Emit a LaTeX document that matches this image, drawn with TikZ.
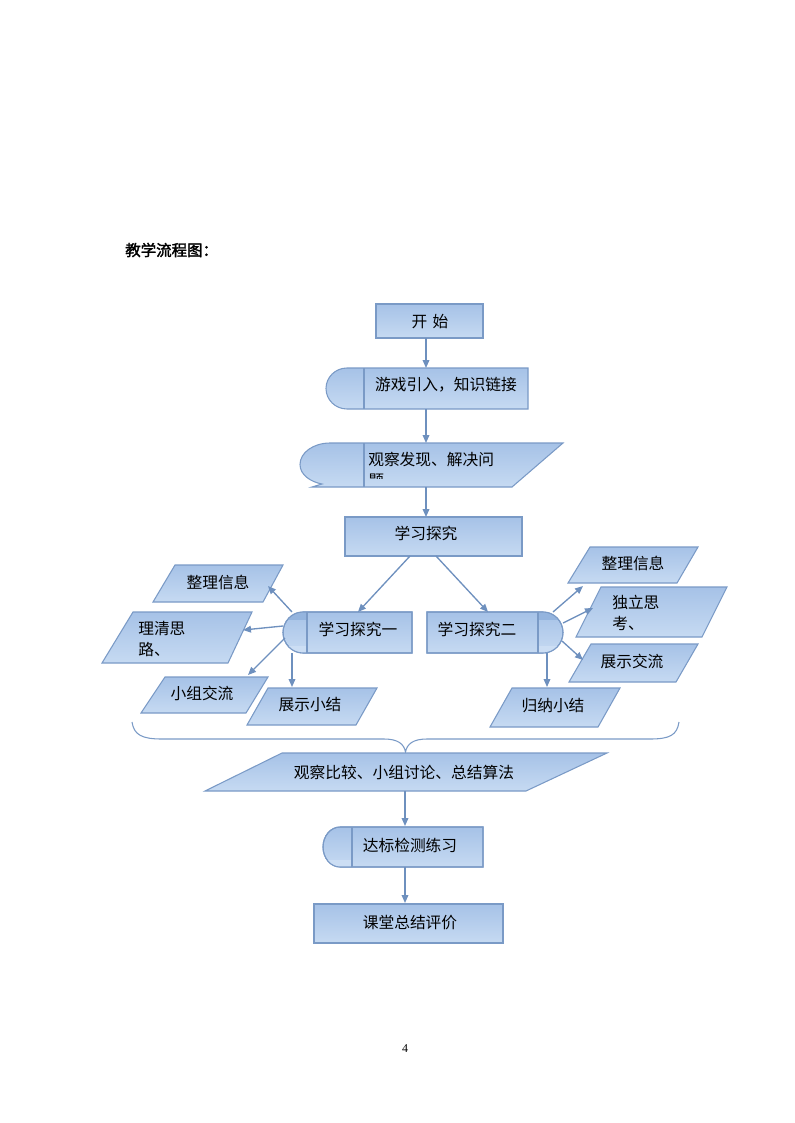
\documentclass[tikz,border=0pt]{standalone}
\usepackage{fontspec}
\setmainfont{Liberation Serif}
\newfontfamily\cjk{Noto Sans CJK SC}
\newfontfamily\cjkb[FakeBold=2]{Noto Sans CJK SC}
\usetikzlibrary{arrows.meta,fit}
\definecolor{bdr}{RGB}{122,154,198}
\definecolor{arr}{RGB}{110,144,190}
\definecolor{fT}{RGB}{166,194,231}
\definecolor{fB}{RGB}{198,218,242}
\definecolor{bandD}{RGB}{148,180,222}
\definecolor{bandL}{RGB}{204,222,244}
\tikzset{
 shp/.style={draw=bdr, line width=0.8pt, top color=fT, bottom color=fB},
 outl/.style={draw=bdr, line width=0.8pt},
 boxn/.style={shp, inner sep=0pt},
 lbl/.style={font=\cjk\fontsize{11.8}{15.5}\selectfont, inner sep=0pt, text=black},
 conn/.style={draw=arr, line width=1pt, -{Triangle[length=6pt,width=5pt]}},
 brc/.style={draw=bdr, line width=0.8pt},
}
\begin{document}
\begin{tikzpicture}[x=0.75pt,y=-0.75pt]
\useasboundingbox (0,0) rectangle (794,1123);

% title
\node[font=\cjkb\fontsize{11.6}{14}\selectfont, anchor=west, inner sep=0pt] (title) at (125,250) {教学流程图：};

% ---------- start box
\coordinate (s1) at (376,304); \coordinate (s2) at (483,338);
\node[boxn, fit=(s1)(s2)] (start) {};
\node[lbl] (startT) at (430,322) {开\,\,始};

% ---------- game intro (rounded left end)
\path[shp] (528,368) -- (347,368) .. controls (335.4,368) and (326,377.2) .. (326,388.5)
  .. controls (326,399.8) and (335.4,409) .. (347,409) -- (528,409) -- cycle;
\draw[outl] (364,368) -- (364,409);
\node[lbl] (game) at (446,385) {游戏引入，知识链接};

% ---------- observe & solve
\path[shp] (563,443) -- (330,443) .. controls (313.4,443) and (300,452.6) .. (300,464.5)
  .. controls (300,475) and (311,482) .. (322,484) -- (312,487) -- (512,487) -- cycle;
\draw[outl] (364,443) -- (364,487);
\node[lbl, anchor=west] (obs) at (368,460) {观察发现、解决问};
\begin{scope}
\clip (364,443) rectangle (563,478.5);
\node[lbl, anchor=west] (obs2) at (368,481) {题};
\end{scope}

% ---------- study box
\coordinate (x1) at (345,517); \coordinate (x2) at (522,556);
\node[boxn, fit=(x1)(x2)] (study) {};
\node[lbl] (studyT) at (426,533) {学习探究};

% ---------- study one
\path[shp] (412,612) -- (303,612) .. controls (292,612) and (283,621.2) .. (283,632.5)
  .. controls (283,643.8) and (292,653) .. (303,653) -- (412,653) -- cycle;
\begin{scope}
\clip (412,612) -- (303,612) .. controls (292,612) and (283,621.2) .. (283,632.5)
  .. controls (283,643.8) and (292,653) .. (303,653) -- (412,653) -- cycle;
\fill[bandD] (280,612) rectangle (307,619.5);
\fill[bandL] (280,645.5) rectangle (307,653);
\end{scope}
\draw[outl] (412,612) -- (303,612) .. controls (292,612) and (283,621.2) .. (283,632.5)
  .. controls (283,643.8) and (292,653) .. (303,653) -- (412,653) -- cycle;
\draw[outl] (307,612) -- (307,653);
\node[lbl] (one) at (358,629) {学习探究一};

% ---------- study two
\path[shp] (427,612) -- (543,612) .. controls (554,612) and (563,621.2) .. (563,632.5)
  .. controls (563,643.8) and (554,653) .. (543,653) -- (427,653) -- cycle;
\begin{scope}
\clip (427,612) -- (543,612) .. controls (554,612) and (563,621.2) .. (563,632.5)
  .. controls (563,643.8) and (554,653) .. (543,653) -- (427,653) -- cycle;
\fill[bandD] (538,612) rectangle (566,619.5);
\fill[bandL] (538,645.5) rectangle (566,653);
\end{scope}
\draw[outl] (427,612) -- (543,612) .. controls (554,612) and (563,621.2) .. (563,632.5)
  .. controls (563,643.8) and (554,653) .. (543,653) -- (427,653) -- cycle;
\draw[outl] (538,612) -- (538,653);
\node[lbl] (two) at (477,629) {学习探究二};

% ---------- left parallelograms
\path[shp] (175,565) -- (283,565) -- (263,602) -- (153,602) -- cycle;
\node[lbl] (l1) at (218,582) {整理信息};
\path[shp] (133,612) -- (252,612) -- (228,663) -- (102,663) -- cycle;
\node[lbl, align=left, anchor=north west] (l2) at (138,621) {理清思\\路、};
\path[shp] (165,677) -- (268,677) -- (246,713) -- (141,713) -- cycle;
\node[lbl] (l3) at (202,693) {小组交流};
\path[shp] (268,688) -- (377,688) -- (356,725) -- (247,725) -- cycle;
\node[lbl] (l4) at (310,705) {展示小结};

% ---------- right parallelograms
\path[shp] (590,547) -- (698,547) -- (677,583) -- (568,583) -- cycle;
\node[lbl] (r1) at (633,563) {整理信息};
\path[shp] (601,587) -- (727,587) -- (702,637) -- (576,637) -- cycle;
\node[lbl, align=left, anchor=north west] (r2) at (612,595) {独立思\\考、};
\path[shp] (591,644) -- (698,644) -- (676,682) -- (569,682) -- cycle;
\node[lbl] (r3) at (632,661) {展示交流};
\path[shp] (512,688) -- (620,688) -- (598,727) -- (490,727) -- cycle;
\node[lbl] (r4) at (553,706) {归纳小结};

% ---------- brace
\draw[brc] (132,722) .. controls (134,735) and (142,739) .. (162,739) -- (384,739)
  .. controls (398,739) and (404,744) .. (405.5,752)
  .. controls (407,744) and (413,739) .. (427,739) -- (650,739)
  .. controls (670,739) and (677,735) .. (679,722);

% ---------- summary parallelogram
\path[shp] (282,753) -- (607,753) -- (526,791) -- (205,791) -- cycle;
\node[lbl] (sum) at (404,772) {观察比较、小组讨论、总结算法};

% ---------- practice
\path[shp] (483,827) -- (340,827) .. controls (330.6,827) and (323,836) .. (323,847)
  .. controls (323,858) and (330.6,867) .. (340,867) -- (483,867) -- cycle;
\begin{scope}
\clip (483,827) -- (340,827) .. controls (330.6,827) and (323,836) .. (323,847)
  .. controls (323,858) and (330.6,867) .. (340,867) -- (483,867) -- cycle;
\fill[bandL] (320,860) rectangle (352,867);
\end{scope}
\draw[outl] (483,827) -- (340,827) .. controls (330.6,827) and (323,836) .. (323,847)
  .. controls (323,858) and (330.6,867) .. (340,867) -- (483,867) -- cycle;
\draw[outl] (352,827) -- (352,867);
\node[lbl] (prac) at (410,845) {达标检测练习};

% ---------- final box
\coordinate (f1) at (314,904); \coordinate (f2) at (503,943);
\node[boxn, fit=(f1)(f2)] (final) {};
\node[lbl] (finalT) at (410,923) {课堂总结评价};

% page number
\node[font=\fontsize{9}{11}\selectfont, inner sep=0pt] (pg) at (405,1049) {4};

% ---------- connector end points
\coordinate (a1s) at (426,338);   \coordinate (a1e) at (426,368);
\coordinate (a2s) at (426,409);   \coordinate (a2e) at (426,443);
\coordinate (a3s) at (426,487);   \coordinate (a3e) at (426,517);
\coordinate (b1s) at (410,556);   \coordinate (b1e) at (358,612);
\coordinate (b2s) at (436,556);   \coordinate (b2e) at (488,612);
\coordinate (o1) at (292,612);    \coordinate (o1e) at (268,586);
\coordinate (o2) at (283,626);    \coordinate (o2e) at (243,630);
\coordinate (o3) at (285,638);    \coordinate (o3e) at (248,675);
\coordinate (o4) at (292,653);    \coordinate (o4e) at (292,687);
\coordinate (t1) at (553,612);    \coordinate (t1e) at (583,586);
\coordinate (t2) at (563,623);    \coordinate (t2e) at (593,608);
\coordinate (t3) at (562,641);    \coordinate (t3e) at (583,660);
\coordinate (t4) at (547,653);    \coordinate (t4e) at (547,687);
\coordinate (c1s) at (405,791);   \coordinate (c1e) at (405,826);
\coordinate (c2s) at (405,867);   \coordinate (c2e) at (405,903);

\draw[conn] (a1s) -- (a1e);
\draw[conn] (a2s) -- (a2e);
\draw[conn] (a3s) -- (a3e);
\draw[conn] (b1s) -- (b1e);
\draw[conn] (b2s) -- (b2e);
\draw[conn] (o1) -- (o1e);
\draw[conn] (o2) -- (o2e);
\draw[conn] (o3) -- (o3e);
\draw[conn] (o4) -- (o4e);
\draw[conn] (t1) -- (t1e);
\draw[conn] (t2) -- (t2e);
\draw[conn] (t3) -- (t3e);
\draw[conn] (t4) -- (t4e);
\draw[conn] (c1s) -- (c1e);
\draw[conn] (c2s) -- (c2e);
\end{tikzpicture}
\end{document}
